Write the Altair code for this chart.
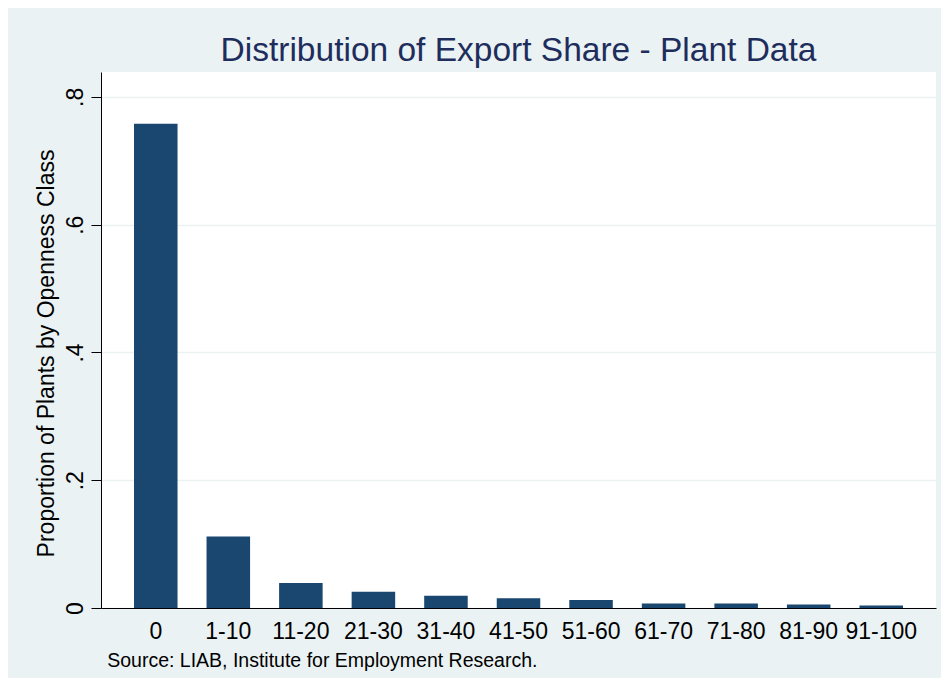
import altair as alt
import pandas as pd

categories = ["0", "1-10", "11-20", "21-30", "31-40", "41-50",
              "51-60", "61-70", "71-80", "81-90", "91-100"]
proportions = [0.758, 0.112, 0.039, 0.0256, 0.0193, 0.0152,
               0.0125, 0.0069, 0.0069, 0.0053, 0.0038]
y_ticks = [0, 0.2, 0.4, 0.6, 0.8]

title_text = "Distribution of Export Share - Plant Data"
y_title = "Proportion of Plants by Openness Class"
note_text = "Source: LIAB, Institute for Employment Research."

df = pd.DataFrame({"cls": categories, "prop": proportions})

FONT = "Liberation Sans"
BG = "#EAF2F3"
BAR = "#1A476F"
NAVY = "#1E2D5C"

chart = alt.Chart(df).mark_bar(color=BAR).encode(
    x=alt.X(
        "cls:N",
        sort=categories,
        scale=alt.Scale(paddingInner=0.4, paddingOuter=0.455),
        axis=alt.Axis(
            title=note_text,
            titleFont=FONT,
            titleFontSize=19.5,
            titleFontWeight="normal",
            titleColor="#000000",
            titleAngle=0,
            titleAlign="left",
            titleBaseline="alphabetic",
            titleX=5.7,
            titleY=58.3,
            labelAngle=0,
            labelFont=FONT,
            labelFontSize=23,
            labelColor="#000000",
            labelPadding=12,
            labelBaseline="top",
            labelOverlap=False,
            ticks=False,
            domainColor="#000000",
            domainWidth=1,
            grid=False,
        ),
    ),
    y=alt.Y(
        "prop:Q",
        scale=alt.Scale(domain=[0, 0.839], nice=False, zero=True),
        axis=alt.Axis(
            title=y_title,
            titleFont=FONT,
            titleFontSize=23,
            titleFontWeight="normal",
            titleColor="#000000",
            titleAngle=270,
            titleAlign="center",
            titleBaseline="alphabetic",
            titleX=-47.5,
            titleY=281,
            values=y_ticks,
            labelExpr="datum.value == 0 ? '0' : replace(format(datum.value, '.1f'), '0.', '.')",
            labelAngle=270,
            labelAlign="center",
            labelBaseline="alphabetic",
            labelFont=FONT,
            labelFontSize=23,
            labelColor="#000000",
            labelPadding=9,
            tickSize=10,
            tickColor="#000000",
            tickWidth=1,
            domainColor="#000000",
            domainWidth=1,
            grid=True,
            gridColor=BG,
            gridWidth=1.6,
        ),
    ),
).properties(
    width=835,
    height=536,
    autosize=alt.AutoSizeParams(type="none"),
    padding={"left": 93, "top": 64, "right": 5, "bottom": 70},
    background=BG,
    title=alt.Title(
        title_text,
        font=FONT,
        fontSize=33.5,
        fontWeight="normal",
        color=NAVY,
        anchor="middle",
        baseline="alphabetic",
        offset=11,
        dy=33,
    ),
).configure_view(
    fill="#FFFFFF",
    strokeWidth=0,
)

chart.save("out.html", embed_options={"renderer": "svg", "actions": False})
